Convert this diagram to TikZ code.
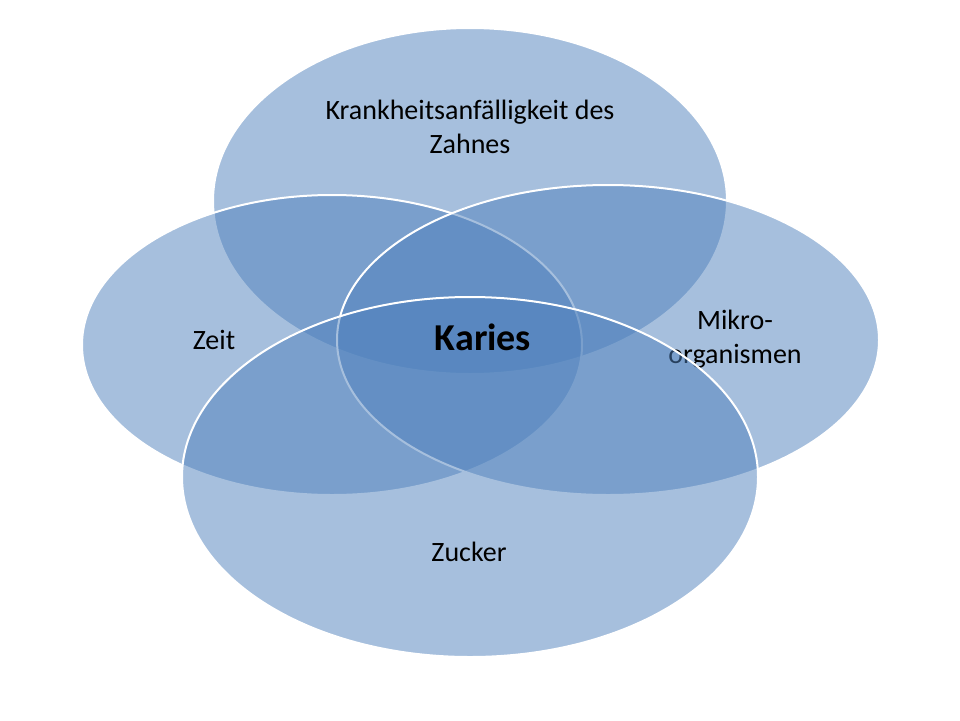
\documentclass[tikz,border=0pt]{standalone}
\usepackage{fontspec}
\setmainfont{Carlito}
\begin{document}
\begin{tikzpicture}[x=1pt,y=-1pt,
  circ/.style={draw=white,line width=2pt,fill={rgb,255:red,79;green,129;blue,189},fill opacity=0.5},
  lbl/.style={font=\fontsize{28}{34}\selectfont,align=center,text=black}]
\useasboundingbox (0,0) rectangle (960,720);
\fill[white] (0,0) rectangle (960,720);
\path[circ] (470,201) ellipse [x radius=257,y radius=173];
\node[lbl] (k) at (470,127) {Krankheitsanfälligkeit des\\Zahnes};
\path[circ] (332,345) ellipse [x radius=250,y radius=150];
\node[lbl] (z) at (214,340) {Zeit};
\path[circ] (608,340) ellipse [x radius=271,y radius=155];
\node[lbl] (m) at (735,339) {Mikro-\\organismen};
\path[circ] (470,477) ellipse [x radius=288,y radius=180];
\node[lbl] (zu) at (469,552) {Zucker};
\node[font=\fontsize{38}{44}\selectfont\bfseries] (ka) at (483,337) {Karies};
\end{tikzpicture}
\end{document}
